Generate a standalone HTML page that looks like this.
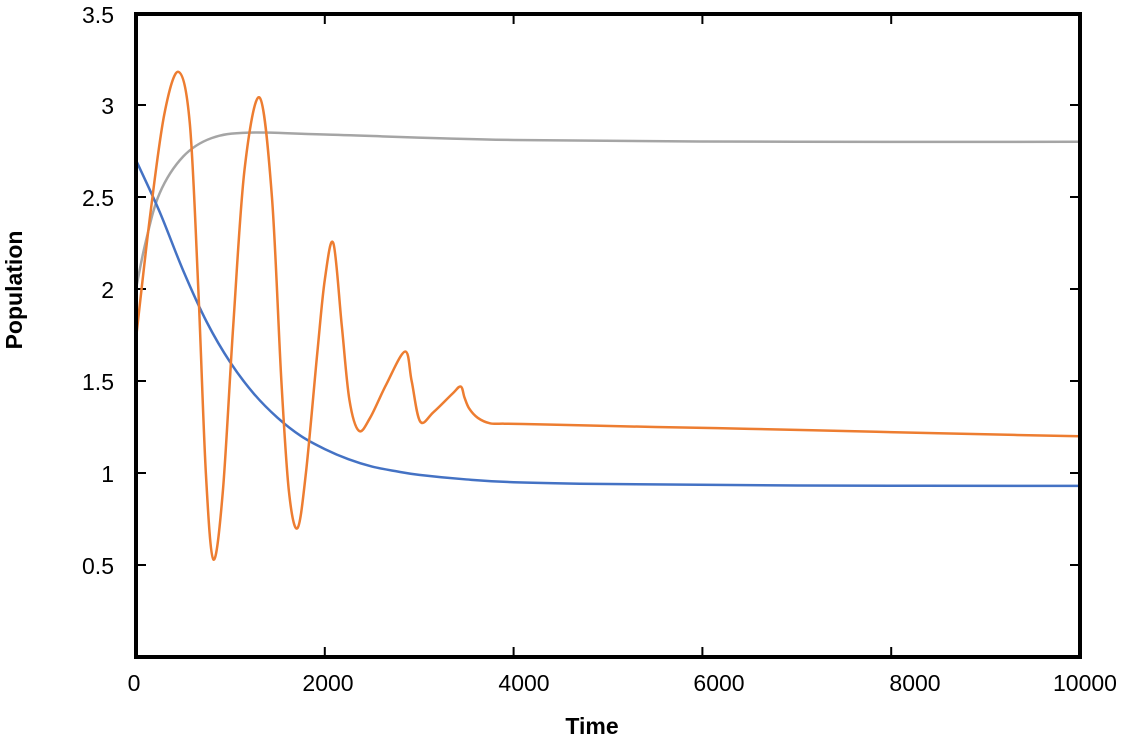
<!DOCTYPE html>
<html><head><meta charset="utf-8"><style>
body{margin:0;background:#fff;}
svg{display:block;font-family:"Liberation Sans",Arial,sans-serif;}
</style></head><body>
<svg id="s" width="1134" height="742" viewBox="0 0 1134 742">
<g font-size="23" fill="#000" text-anchor="end">
<text x="114" y="23">3.5</text>
<text x="114" y="114">3</text>
<text x="114" y="206">2.5</text>
<text x="114" y="298">2</text>
<text x="114" y="390">1.5</text>
<text x="114" y="482">1</text>
<text x="114" y="574">0.5</text>
</g>
<g font-size="23" fill="#000" text-anchor="middle">
<text x="134" y="691">0</text>
<text x="328" y="691">2000</text>
<text x="524" y="691">4000</text>
<text x="719" y="691">6000</text>
<text x="915" y="691">8000</text>
<text x="1085" y="691">10000</text>
</g>
<text x="592" y="734" font-size="23" font-weight="bold" text-anchor="middle">Time</text>
<text transform="translate(22,290) rotate(-90)" font-size="23" font-weight="bold" text-anchor="middle">Population</text>
<g id="ticks" stroke="#000" stroke-width="2"></g>
<path id="gray" fill="none" stroke="#a5a5a5" stroke-width="2.5"/>
<path id="blue" fill="none" stroke="#4472c4" stroke-width="2.5"/>
<path id="orange" fill="none" stroke="#ed7d31" stroke-width="2.5"/>
<rect x="136" y="14" width="944" height="643" fill="none" stroke="#000" stroke-width="4"/>
</svg>
<script>
function X(t){return 136+t*0.0944;}
function Y(v){return 657-184*v;}
function path(pts){
 var p=pts.map(function(a){return [X(a[0]),Y(a[1])];});
 var d="M"+p[0][0]+","+p[0][1];
 for(var i=0;i<p.length-1;i++){
  var p0=p[i-1]||p[i],p1=p[i],p2=p[i+1],p3=p[i+2]||p2;
  var c1=[p1[0]+(p2[0]-p0[0])/6,p1[1]+(p2[1]-p0[1])/6];
  var c2=[p2[0]-(p3[0]-p1[0])/6,p2[1]-(p3[1]-p1[1])/6];
  d+=" C"+c1[0]+","+c1[1]+" "+c2[0]+","+c2[1]+" "+p2[0]+","+p2[1];
 }
 return d;
}
document.getElementById("blue").setAttribute("d",path([[0,2.7],[250,2.42],[500,2.1],[750,1.82],[1000,1.6],[1250,1.43],[1500,1.3],[1750,1.2],[2000,1.13],[2250,1.075],[2500,1.035],[2750,1.01],[3000,0.99],[3500,0.965],[4000,0.95],[5000,0.94],[7000,0.932],[10000,0.93]]));
document.getElementById("gray").setAttribute("d",path([[0,2.0],[100,2.25],[250,2.52],[500,2.72],[800,2.82],[1200,2.85],[2000,2.84],[4000,2.81],[7000,2.8],[10000,2.8]]));
document.getElementById("orange").setAttribute("d",path([[0,1.73],[150,2.4],[300,2.95],[450,3.18],[570,2.9],[660,2.0],[740,1.0],[820,0.53],[920,0.9],[1030,1.8],[1150,2.65],[1310,3.04],[1440,2.5],[1540,1.5],[1620,0.9],[1710,0.7],[1800,1.0],[1920,1.65],[2000,2.05],[2090,2.25],[2180,1.8],[2260,1.4],[2360,1.23],[2480,1.3],[2650,1.48],[2850,1.66],[2920,1.5],[3010,1.28],[3150,1.33],[3350,1.43],[3440,1.47],[3480,1.41],[3530,1.35],[3620,1.3],[3750,1.27],[3900,1.268],[4100,1.266],[4400,1.263],[4800,1.258],[5500,1.25],[6500,1.24],[7500,1.228],[8500,1.216],[9300,1.207],[10000,1.2]]));
var g=document.getElementById("ticks"),h="";
[0.5,1,1.5,2,2.5,3].forEach(function(v){var y=Y(v);h+='<line x1="136" x2="146" y1="'+y+'" y2="'+y+'"/><line x1="1070" x2="1080" y1="'+y+'" y2="'+y+'"/>';});
[2000,4000,6000,8000].forEach(function(t){var x=X(t);h+='<line x1="'+x+'" x2="'+x+'" y1="657" y2="647"/><line x1="'+x+'" x2="'+x+'" y1="14" y2="24"/>';});
g.innerHTML=h;
</script>
</body></html>
